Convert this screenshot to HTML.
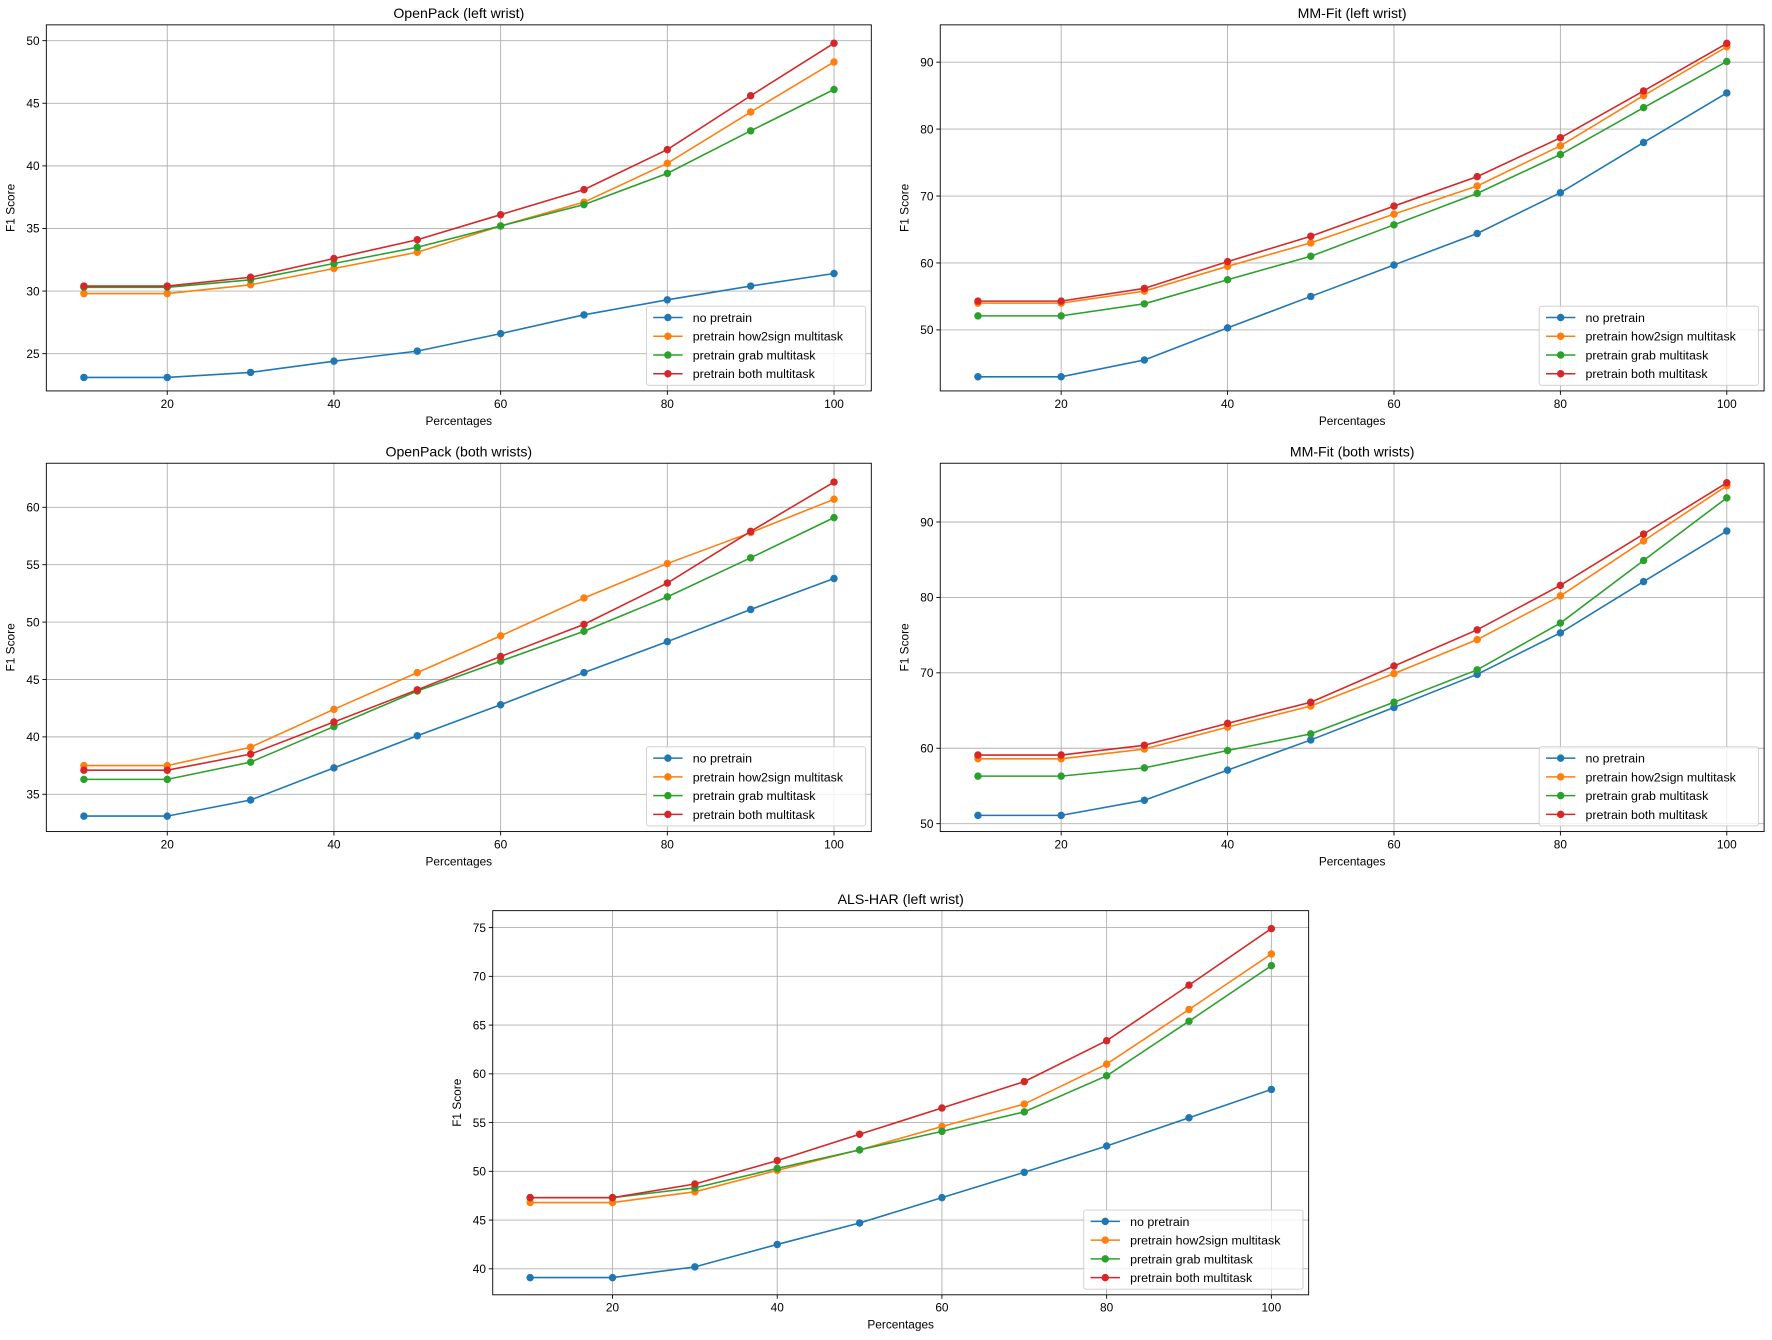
<!DOCTYPE html>
<html><head><meta charset="utf-8"><style>
html,body{margin:0;padding:0;background:#fff;}
svg{display:block;font-family:"Liberation Sans","DejaVu Sans",sans-serif;}
</style></head><body>
<svg id="chart" width="1772" height="1340" viewBox="0 0 1568 1186" preserveAspectRatio="none" xmlns="http://www.w3.org/2000/svg"></svg>
<script>
const percentages = [10,20,30,40,50,60,70,80,90,100];
const xTicks = [20,40,60,80,100];
const seriesNames = ["no pretrain","pretrain how2sign multitask","pretrain grab multitask","pretrain both multitask"];
const seriesColors = ["#1f77b4","#ff7f0e","#2ca02c","#d62728"];

const p1NoPretrain = [23.1,23.1,23.5,24.4,25.2,26.6,28.1,29.3,30.4,31.4];
const p1How2sign = [29.8,29.8,30.5,31.8,33.1,35.2,37.1,40.2,44.3,48.3];
const p1Grab = [30.3,30.3,30.9,32.2,33.5,35.2,36.9,39.4,42.8,46.1];
const p1Both = [30.4,30.4,31.1,32.6,34.1,36.1,38.1,41.3,45.6,49.8];
const p1YTicks = [25,30,35,40,45,50];

const p2NoPretrain = [43,43,45.5,50.3,55,59.7,64.4,70.5,78,85.4];
const p2How2sign = [54,54,55.8,59.5,63,67.3,71.5,77.5,85,92.3];
const p2Grab = [52.1,52.1,53.9,57.5,61,65.7,70.4,76.2,83.2,90.1];
const p2Both = [54.3,54.3,56.2,60.2,64,68.5,72.9,78.7,85.7,92.8];
const p2YTicks = [50,60,70,80,90];

const p3NoPretrain = [33.1,33.1,34.5,37.3,40.1,42.8,45.6,48.3,51.1,53.8];
const p3How2sign = [37.5,37.5,39.1,42.4,45.6,48.8,52.1,55.1,57.8,60.7];
const p3Grab = [36.3,36.3,37.8,40.9,44,46.6,49.2,52.2,55.6,59.1];
const p3Both = [37.1,37.1,38.5,41.3,44.1,47,49.8,53.4,57.9,62.2];
const p3YTicks = [35,40,45,50,55,60];

const p4NoPretrain = [51.1,51.1,53.1,57.1,61.1,65.4,69.8,75.3,82.1,88.8];
const p4How2sign = [58.6,58.6,59.9,62.8,65.6,69.9,74.4,80.2,87.5,94.8];
const p4Grab = [56.3,56.3,57.4,59.7,61.9,66.1,70.4,76.6,84.9,93.2];
const p4Both = [59.1,59.1,60.4,63.3,66.1,70.9,75.7,81.6,88.4,95.2];
const p4YTicks = [50,60,70,80,90];

const p5NoPretrain = [39.1,39.1,40.2,42.5,44.7,47.3,49.9,52.6,55.5,58.4];
const p5How2sign = [46.8,46.8,47.9,50.1,52.2,54.6,56.9,61,66.6,72.3];
const p5Grab = [47.3,47.3,48.3,50.3,52.2,54.1,56.1,59.8,65.4,71.1];
const p5Both = [47.3,47.3,48.7,51.1,53.8,56.5,59.2,63.4,69.1,74.9];
const p5YTicks = [40,45,50,55,60,65,70,75];

const svg = document.getElementById('chart');
const NS = "http://www.w3.org/2000/svg";
function mk(tag, attrs, parent){
  const e = document.createElementNS(NS, tag);
  for (const k in attrs) e.setAttribute(k, attrs[k]);
  parent.appendChild(e);
  return e;
}

function panel(cfg, id){
  const g = mk('g', {}, svg);
  
  
  const {x0,x1,y0,y1} = cfg;
  const xs = v => cfg.x20 + (v-20)*(cfg.x100-cfg.x20)/80;
  const ys = v => cfg.ya + (v-cfg.va)*(cfg.yb-cfg.ya)/(cfg.vb-cfg.va);
  xTicks.forEach(t=>{
    const X = xs(t);
    const gl = mk('line',{x1:X,x2:X,y1:y0,y2:y1,stroke:'#b0b0b0','stroke-width':0.8},g);
    
    
    mk('line',{x1:X,x2:X,y1:y1,y2:y1+3.5,stroke:'#000','stroke-width':0.8},g);
    const tx = mk('text',{x:X,y:y1+15,'font-size':10.5,'text-anchor':'middle',fill:'#000'},g);
    tx.textContent = t;
    
    
  });
  cfg.yTicks.forEach(t=>{
    const Y = ys(t);
    const gl = mk('line',{x1:x0,x2:x1,y1:Y,y2:Y,stroke:'#b0b0b0','stroke-width':0.8},g);
    
    
    mk('line',{x1:x0-3.5,x2:x0,y1:Y,y2:Y,stroke:'#000','stroke-width':0.8},g);
    const tx = mk('text',{x:x0-6,y:Y+3.8,'font-size':10.5,'text-anchor':'end',fill:'#000'},g);
    tx.textContent = t;
    
    
  });
  cfg.series.forEach((vals,si)=>{
    const pts = vals.map((v,i)=>xs(percentages[i])+','+ys(v)).join(' ');
    const pl = mk('polyline',{points:pts,fill:'none',stroke:seriesColors[si],'stroke-width':1.4},g);
    
    
    vals.forEach((v,i)=>{
      const c = mk('circle',{cx:xs(percentages[i]),cy:ys(v),r:3.3,fill:seriesColors[si]},g);
      
      
    });
  });
  const fr = mk('rect',{x:x0,y:y0,width:x1-x0,height:y1-y0,fill:'none',stroke:'#000','stroke-width':0.8},g);
  
  
  const ti = mk('text',{x:(x0+x1)/2,y:y0-6,'font-size':12.5,'text-anchor':'middle',fill:'#000'},g);
  ti.textContent = cfg.title;
  
  
  const xl = mk('text',{x:(x0+x1)/2,y:y1+30,'font-size':10.5,'text-anchor':'middle',fill:'#000'},g);
  xl.textContent = 'Percentages';
  
  
  const cy = (y0+y1)/2;
  const yl = mk('text',{x:x0-28,y:cy,'font-size':10.5,'text-anchor':'middle',fill:'#000',transform:`rotate(-90 ${x0-28} ${cy})`},g);
  yl.textContent = 'F1 Score';
  
  
  const lw=194, lh=70, lx=x1-lw-5, ly=y1-lh-5;
  const lg = mk('g',{},g);
  
  
  mk('rect',{x:lx,y:ly,width:lw,height:lh,rx:2,fill:'#fff','fill-opacity':0.8,stroke:'#ccc','stroke-width':0.8},lg);
  seriesNames.forEach((n,i)=>{
    const Y = ly+10+i*16.6;
    const e = mk('g',{},lg);
    
    
    mk('line',{x1:lx+6,x2:lx+32,y1:Y,y2:Y,stroke:seriesColors[i],'stroke-width':1.4},e);
    mk('circle',{cx:lx+19,cy:Y,r:3.3,fill:seriesColors[i]},e);
    const t = mk('text',{x:lx+41,y:Y+3.9,'font-size':11,fill:'#000'},e);
    t.textContent = n;
  });
}

panel({title:'OpenPack (left wrist)',x0:41,x1:771,y0:22,y1:346,x20:148,x100:738,va:50,ya:36,vb:25,yb:313,yTicks:p1YTicks,series:[p1NoPretrain,p1How2sign,p1Grab,p1Both]},'openpack-left');
panel({title:'MM-Fit (left wrist)',x0:832,x1:1561,y0:22,y1:346,x20:939,x100:1528,va:90,ya:55,vb:50,yb:292,yTicks:p2YTicks,series:[p2NoPretrain,p2How2sign,p2Grab,p2Both]},'mmfit-left');
panel({title:'OpenPack (both wrists)',x0:41,x1:771,y0:410,y1:736,x20:148,x100:738,va:60,ya:449,vb:35,yb:703,yTicks:p3YTicks,series:[p3NoPretrain,p3How2sign,p3Grab,p3Both]},'openpack-both');
panel({title:'MM-Fit (both wrists)',x0:832,x1:1561,y0:410,y1:736,x20:939,x100:1528,va:90,ya:462,vb:50,yb:729,yTicks:p4YTicks,series:[p4NoPretrain,p4How2sign,p4Grab,p4Both]},'mmfit-both');
panel({title:'ALS-HAR (left wrist)',x0:436,x1:1158,y0:806,y1:1146,x20:542,x100:1125,va:75,ya:821,vb:40,yb:1123,yTicks:p5YTicks,series:[p5NoPretrain,p5How2sign,p5Grab,p5Both]},'alshar-left');
</script>
</body></html>
